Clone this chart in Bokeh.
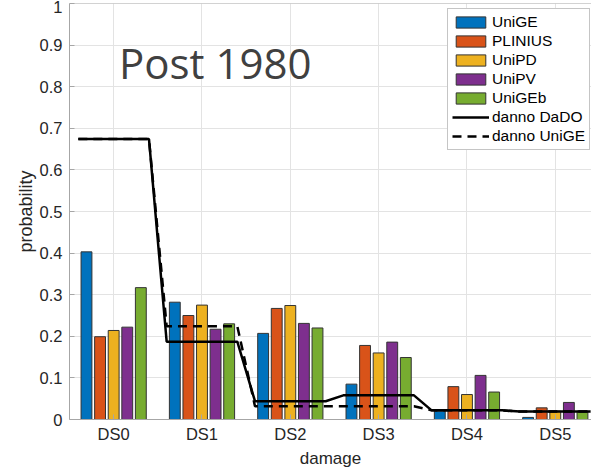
import numpy as np
from bokeh.plotting import figure
from bokeh.models import (Range1d, FixedTicker, Legend, LegendItem,
                          Label, ColumnDataSource, Span)
from bokeh.embed import file_html
from bokeh.resources import INLINE

# ---- data ----
categories = ["DS0", "DS1", "DS2", "DS3", "DS4", "DS5"]
series_names = ["UniGE", "PLINIUS", "UniPD", "UniPV", "UniGEb"]
series_colors = ["#0072BD", "#D95319", "#EDB120", "#7E2F8E", "#77AC30"]
unige = [0.403, 0.282, 0.207, 0.085, 0.020, 0.005]
plinius = [0.199, 0.250, 0.267, 0.178, 0.079, 0.028]
unipd = [0.214, 0.275, 0.274, 0.160, 0.060, 0.020]
unipv = [0.222, 0.217, 0.231, 0.186, 0.106, 0.041]
unigeb = [0.317, 0.230, 0.220, 0.149, 0.066, 0.020]
danno_dado = [0.674, 0.187, 0.044, 0.058, 0.022, 0.019]
danno_unige = [0.674, 0.224, 0.032, 0.032, 0.022, 0.019]
y_ticks = [0, 0.1, 0.2, 0.3, 0.4, 0.5, 0.6, 0.7, 0.8, 0.9, 1.0]
y_tick_labels = ["0", "0.1", "0.2", "0.3", "0.4", "0.5", "0.6", "0.7", "0.8", "0.9", "1"]
title_text = "Post 1980"
x_label = "damage"
y_label = "probability"

all_series = [unige, plinius, unipd, unipv, unigeb]

FONT = "Liberation Sans"
TXT = "#262626"
AXC = "#a6a6a6"

p = figure(width=591, height=470, output_backend="svg", toolbar_location=None,
           x_range=Range1d(0.5, 6.41), y_range=Range1d(0, 1),
           min_border_left=69, min_border_right=0, min_border_top=3,
           min_border_bottom=49)
p.outline_line_color = None
p.background_fill_color = "white"
p.border_fill_color = "white"

pos = np.arange(1, len(categories) + 1)

# grid
p.xgrid.ticker = FixedTicker(ticks=list(pos))
p.ygrid.ticker = FixedTicker(ticks=y_ticks)
for g in (p.xgrid, p.ygrid):
    g.grid_line_color = "#e3e3e3"
    g.grid_line_width = 1

# axes
xa = p.xaxis[0]
xa.ticker = FixedTicker(ticks=list(pos))
xa.major_label_overrides = {int(i): c for i, c in zip(pos, categories)}
ya = p.yaxis[0]
ya.ticker = FixedTicker(ticks=y_ticks)
ya.major_label_overrides = {t: l for t, l in zip(y_ticks, y_tick_labels)}
for ax in (xa, ya):
    ax.axis_line_color = AXC
    ax.major_tick_line_color = AXC
    ax.major_tick_in = 5
    ax.major_tick_out = 0
    ax.minor_tick_line_color = None
    ax.major_label_text_font = FONT
    ax.major_label_text_font_size = "16.5px"
    ax.major_label_text_color = TXT
    ax.axis_label_text_font = FONT
    ax.axis_label_text_font_style = "normal"
    ax.axis_label_text_color = TXT
xa.axis_label = x_label
xa.axis_label_text_font_size = "17px"
xa.major_label_standoff = 5
xa.axis_label_standoff = 3
ya.axis_label = y_label
ya.axis_label_text_font_size = "18px"
ya.major_label_standoff = 7
ya.axis_label_standoff = 1

# top border of the box
p.add_layout(Span(location=1, dimension="width", line_color=AXC, line_width=1))

# bars
group_w = 5 / 6.5
step = group_w / 5
bar_w = step * 0.8
items = []
for k, (name, col, vals) in enumerate(zip(series_names, series_colors, all_series)):
    src = ColumnDataSource(dict(x=pos + (k - 2) * step, top=vals))
    r = p.vbar(x="x", top="top", width=bar_w, bottom=0, source=src,
               fill_color=col, line_color="#333333", line_width=1)
    items.append(LegendItem(label=name, renderers=[r]))

# step lines
def step_xy(vals):
    xs, ys = [], []
    for c, v in zip(pos, vals):
        xs += [c - 0.4, c + 0.4]
        ys += [v, v]
    return xs, ys

xs, ys = step_xy(danno_dado)
r1 = p.line(xs, ys, line_color="black", line_width=2.5)
xs2, ys2 = step_xy(danno_unige)
r2 = p.line(xs2, ys2, line_color="black", line_width=2.5, line_dash="9 6")
items.append(LegendItem(label="danno DaDO", renderers=[r1]))
items.append(LegendItem(label="danno UniGE", renderers=[r2]))

legend = Legend(items=items, location=(378, 269))
legend.glyph_width = 37
legend.glyph_height = 14
legend.label_height = 14
legend.label_standoff = 3
legend.spacing = 1
legend.padding = 4
legend.margin = 0
legend.label_text_font = FONT
legend.label_text_font_size = "15.5px"
legend.label_text_color = "black"
legend.border_line_color = "#8c8c8c"
legend.border_line_width = 1
legend.background_fill_color = "white"
legend.background_fill_alpha = 1
p.add_layout(legend)

p.add_layout(Label(x=1.06, y=0.858, text=title_text, text_font="Open Sans",
                   text_font_size="42px", text_color="#404040",
                   text_baseline="alphabetic"))

open("out.html", "w").write(file_html(p, INLINE))
